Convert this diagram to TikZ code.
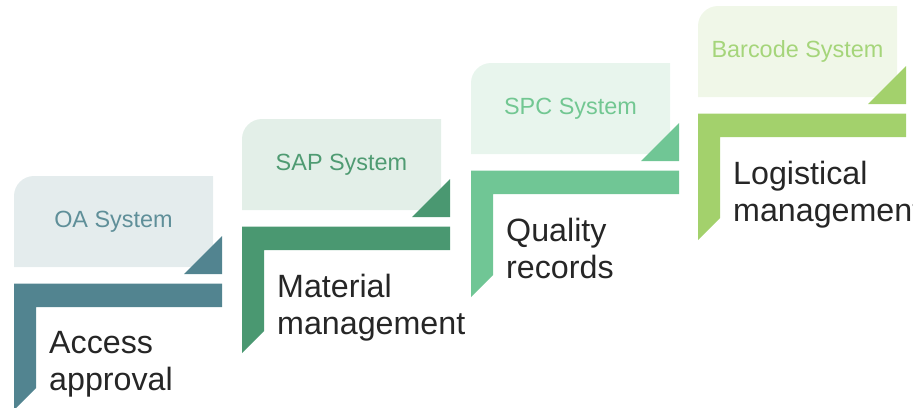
\documentclass[tikz,border=0pt]{standalone}
\usepackage{fontspec}
\setmainfont{Liberation Sans}
\definecolor{oaband}{HTML}{528490}
\definecolor{oalight}{HTML}{E4ECED}
\definecolor{oatext}{HTML}{5F8F99}
\definecolor{sapband}{HTML}{4A9871}
\definecolor{saplight}{HTML}{E3EFE8}
\definecolor{saptext}{HTML}{4F9B72}
\definecolor{spcband}{HTML}{70C695}
\definecolor{spclight}{HTML}{E8F5ED}
\definecolor{spctext}{HTML}{72C792}
\definecolor{barband}{HTML}{A3D16C}
\definecolor{barlight}{HTML}{F0F7E8}
\definecolor{bartext}{HTML}{A5D57A}
\definecolor{bigtext}{HTML}{262626}
\begin{document}
\begin{tikzpicture}
	[	x=0.03cm,y=-0.03cm,
	sysname/.style={inner sep=0,font=\fontsize{20}{23}\selectfont},
	bigname/.style={inner sep=0,anchor=north west,align=left,text=bigtext,font=\fontsize{27.5}{31.5}\selectfont}
	]
	\useasboundingbox (0,0) rectangle (913,407);
	% OA System
	\fill[oalight] (14,267) -- (14,196) arc(180:270:20) -- (213,176) -- (213,267) -- cycle;
	\fill[oaband] (184,274) -- (222,274) -- (222,236) -- cycle;
	\fill[oaband] (14,283.5) -- (222,283.5) -- (222,307) -- (36,307) -- (36,388) -- (14,410) -- cycle;
	\node[sysname,text=oatext] (oa) at (113.5,221.5){OA System};
	\node[bigname] (access) at (49,331){Access\\approval};
	% SAP System
	\fill[saplight] (242,210) -- (242,139) arc(180:270:20) -- (441,119) -- (441,210) -- cycle;
	\fill[sapband] (412,217) -- (450,217) -- (450,179) -- cycle;
	\fill[sapband] (242,226.5) -- (450,226.5) -- (450,250) -- (264,250) -- (264,331) -- (242,353) -- cycle;
	\node[sysname,text=saptext] (sap) at (341.5,164.5){SAP System};
	\node[bigname] (material) at (277,274){Material\\management};
	% SPC System
	\fill[spclight] (471,154) -- (471,83) arc(180:270:20) -- (670,63) -- (670,154) -- cycle;
	\fill[spcband] (641,161) -- (679,161) -- (679,123) -- cycle;
	\fill[spcband] (471,170.5) -- (679,170.5) -- (679,194) -- (493,194) -- (493,275) -- (471,297) -- cycle;
	\node[sysname,text=spctext] (spc) at (570.5,108.5){SPC System};
	\node[bigname] (quality) at (506,218){Quality\\records};
	% Barcode System
	\fill[barlight] (698,97) -- (698,26) arc(180:270:20) -- (897,6) -- (897,97) -- cycle;
	\fill[barband] (868,104) -- (906,104) -- (906,66) -- cycle;
	\fill[barband] (698,113.5) -- (906,113.5) -- (906,137) -- (720,137) -- (720,218) -- (698,240) -- cycle;
	\node[sysname,text=bartext] (barcode) at (797.5,51.5){Barcode System};
	\node[bigname] (logistical) at (733,161){Logistical\\management};
\end{tikzpicture}
\end{document}
